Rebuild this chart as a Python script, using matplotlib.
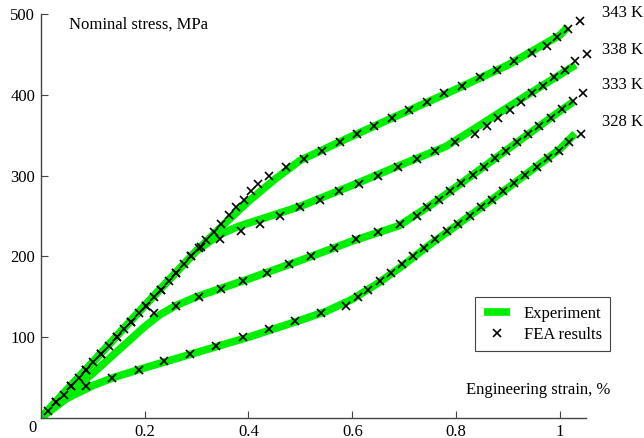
import matplotlib
matplotlib.use("Agg")
import matplotlib.pyplot as plt
from matplotlib.lines import Line2D

plt.rcParams['font.family'] = ['Liberation Serif', 'DejaVu Serif']
plt.rcParams['font.size'] = 12

# Experiment curves (strain %, stress MPa)
exp_343_x = [0, 0.1, 0.2, 0.3, 0.35, 0.4, 0.45, 0.5, 0.6, 0.7, 0.8, 0.9, 1.0, 1.015]
exp_343_y = [0, 69, 139, 207, 238, 268, 295, 319, 349, 378, 407, 437, 474, 484]
exp_338_x = [0, 0.1, 0.2, 0.3, 0.345, 0.38, 0.5, 0.6, 0.7, 0.75, 0.78, 0.83, 0.92, 1.03]
exp_338_y = [0, 69, 139, 207, 227, 237, 262, 288, 315, 328, 336, 356, 393, 437]
exp_333_x = [0, 0.05, 0.1, 0.15, 0.2, 0.23, 0.26, 0.3, 0.4, 0.5, 0.6, 0.69, 0.75, 0.8, 0.9, 1.0, 1.025]
exp_333_y = [0, 27, 55, 84, 113, 128, 139, 150, 172, 195, 219, 238, 263, 286, 333, 380, 391]
exp_328_x = [0, 0.05, 0.1, 0.14, 0.2, 0.3, 0.4, 0.5, 0.55, 0.6, 0.65, 0.7, 0.75, 0.8, 0.9, 1.0, 1.029]
exp_328_y = [0, 24, 40, 50, 62, 81, 100, 121, 132, 147, 167, 190, 215, 238, 285, 333, 352]

# FEA results
fea_343_x = [0.014, 0.029, 0.044, 0.059, 0.074, 0.087, 0.101, 0.116, 0.131, 0.146, 0.160, 0.174,
             0.189, 0.203, 0.218, 0.232, 0.247, 0.261, 0.276, 0.290, 0.305, 0.319, 0.333, 0.347,
             0.362, 0.376, 0.391, 0.405, 0.418, 0.439, 0.473, 0.506, 0.542, 0.576, 0.609, 0.642,
             0.676, 0.710, 0.744, 0.777, 0.811, 0.845, 0.878, 0.912, 0.946, 0.974, 0.994, 1.016, 1.038]
fea_343_y = [9, 20, 29, 39, 49, 59, 69, 79, 89, 100, 110, 119, 130, 139, 150, 159, 170, 180, 190,
             200, 210, 220, 230, 240, 251, 261, 270, 281, 290, 300, 311, 321, 331, 341, 351, 361,
             371, 381, 391, 402, 411, 422, 431, 442, 452, 461, 472, 481, 491]
fea_338_x = [0.029, 0.059, 0.087, 0.116, 0.146, 0.174, 0.203, 0.232, 0.261, 0.290, 0.308, 0.346,
             0.385, 0.423, 0.460, 0.499, 0.537, 0.574, 0.612, 0.649, 0.687, 0.724, 0.760, 0.798,
             0.837, 0.860, 0.881, 0.903, 0.924, 0.946, 0.968, 0.988, 1.010, 1.029, 1.051]
fea_338_y = [20, 39, 59, 79, 100, 119, 139, 159, 180, 200, 212, 221, 231, 240, 250, 261, 270, 281,
             290, 300, 311, 321, 331, 341, 351, 361, 371, 381, 391, 402, 411, 422, 431, 442, 451]
fea_333_x = [0.088, 0.218, 0.261, 0.304, 0.348, 0.390, 0.435, 0.478, 0.520, 0.564, 0.607, 0.649,
             0.692, 0.724, 0.744, 0.766, 0.788, 0.809, 0.832, 0.853, 0.875, 0.896, 0.918, 0.939,
             0.960, 0.982, 1.003, 1.024, 1.045]
fea_333_y = [39, 130, 139, 150, 160, 170, 180, 190, 201, 211, 221, 230, 240, 250, 261, 270, 281,
             291, 301, 311, 322, 331, 341, 351, 361, 371, 382, 392, 402]
fea_328_x = [0.138, 0.189, 0.238, 0.288, 0.338, 0.389, 0.439, 0.490, 0.539, 0.588, 0.610, 0.631,
             0.654, 0.674, 0.696, 0.717, 0.738, 0.760, 0.782, 0.803, 0.826, 0.847, 0.869, 0.890,
             0.912, 0.933, 0.955, 0.976, 0.997, 1.018, 1.040]
fea_328_y = [49, 60, 70, 79, 89, 100, 110, 120, 130, 139, 150, 159, 170, 180, 191, 201, 211, 221,
             231, 240, 250, 261, 270, 281, 291, 301, 311, 322, 331, 341, 351]

temp_labels = ['343 K', '338 K', '333 K', '328 K']
x_ticks = [0.2, 0.4, 0.6, 0.8, 1.0]
x_tick_labels = ['0.2', '0.4', '0.6', '0.8', '1']
y_ticks = [100, 200, 300, 400, 500]

green = '#00ee00'

fig = plt.figure(figsize=(6.44, 4.38), dpi=100)
ax = fig.add_axes([0.0632, 0.0457, 0.8468, 0.9223])

for ex, ey in [(exp_343_x, exp_343_y), (exp_338_x, exp_338_y),
               (exp_333_x, exp_333_y), (exp_328_x, exp_328_y)]:
    ax.plot(ex, ey, color=green, lw=5.5, solid_capstyle='butt', solid_joinstyle='round', zorder=2)

for fx, fy in [(fea_343_x, fea_343_y), (fea_338_x, fea_338_y),
               (fea_333_x, fea_333_y), (fea_328_x, fea_328_y)]:
    ax.plot(fx, fy, ls='none', marker='x', ms=5.5, mew=1.2, color='black', zorder=3, clip_on=False)

ax.set_xlim(0, 1.05)
ax.set_ylim(0, 500)
for s in ['top', 'right']:
    ax.spines[s].set_visible(False)
for s in ['left', 'bottom']:
    ax.spines[s].set_color('#444444')
    ax.spines[s].set_linewidth(1.0)

ax.set_xticks(x_ticks)
ax.set_xticklabels(x_tick_labels)
ax.set_yticks(y_ticks)
ax.tick_params(direction='in', length=5, width=0.8, color='#444444', labelsize=12, pad=4)
ax.annotate('0', xy=(0, 0), xytext=(-6, -7), textcoords='offset points',
            ha='center', va='center', fontsize=12)

fig.text(69 / 644, 1 - 25 / 438, 'Nominal stress, MPa', ha='left', va='center', fontsize=12)
fig.text(610 / 644, 1 - 390 / 438, 'Engineering strain, %', ha='right', va='center', fontsize=12)

for lab, py in zip(temp_labels, [13, 50, 85, 122]):
    fig.text(602 / 644, 1 - py / 438, lab, ha='left', va='center', fontsize=12)

handles = [Line2D([], [], color=green, lw=5.5, solid_capstyle='butt'),
           Line2D([], [], ls='none', marker='x', ms=5.5, mew=1.2, color='black')]
leg = ax.legend(handles, ['Experiment', 'FEA results'], loc='lower right',
                bbox_to_anchor=(610 / 644, 1 - 351 / 438), bbox_transform=fig.transFigure,
                borderaxespad=0, fancybox=False, framealpha=1, edgecolor='#444444',
                handlelength=1.6, fontsize=12, borderpad=0.5, labelspacing=0.3)
leg.get_frame().set_linewidth(0.8)

fig.savefig('out.png', dpi=100)
